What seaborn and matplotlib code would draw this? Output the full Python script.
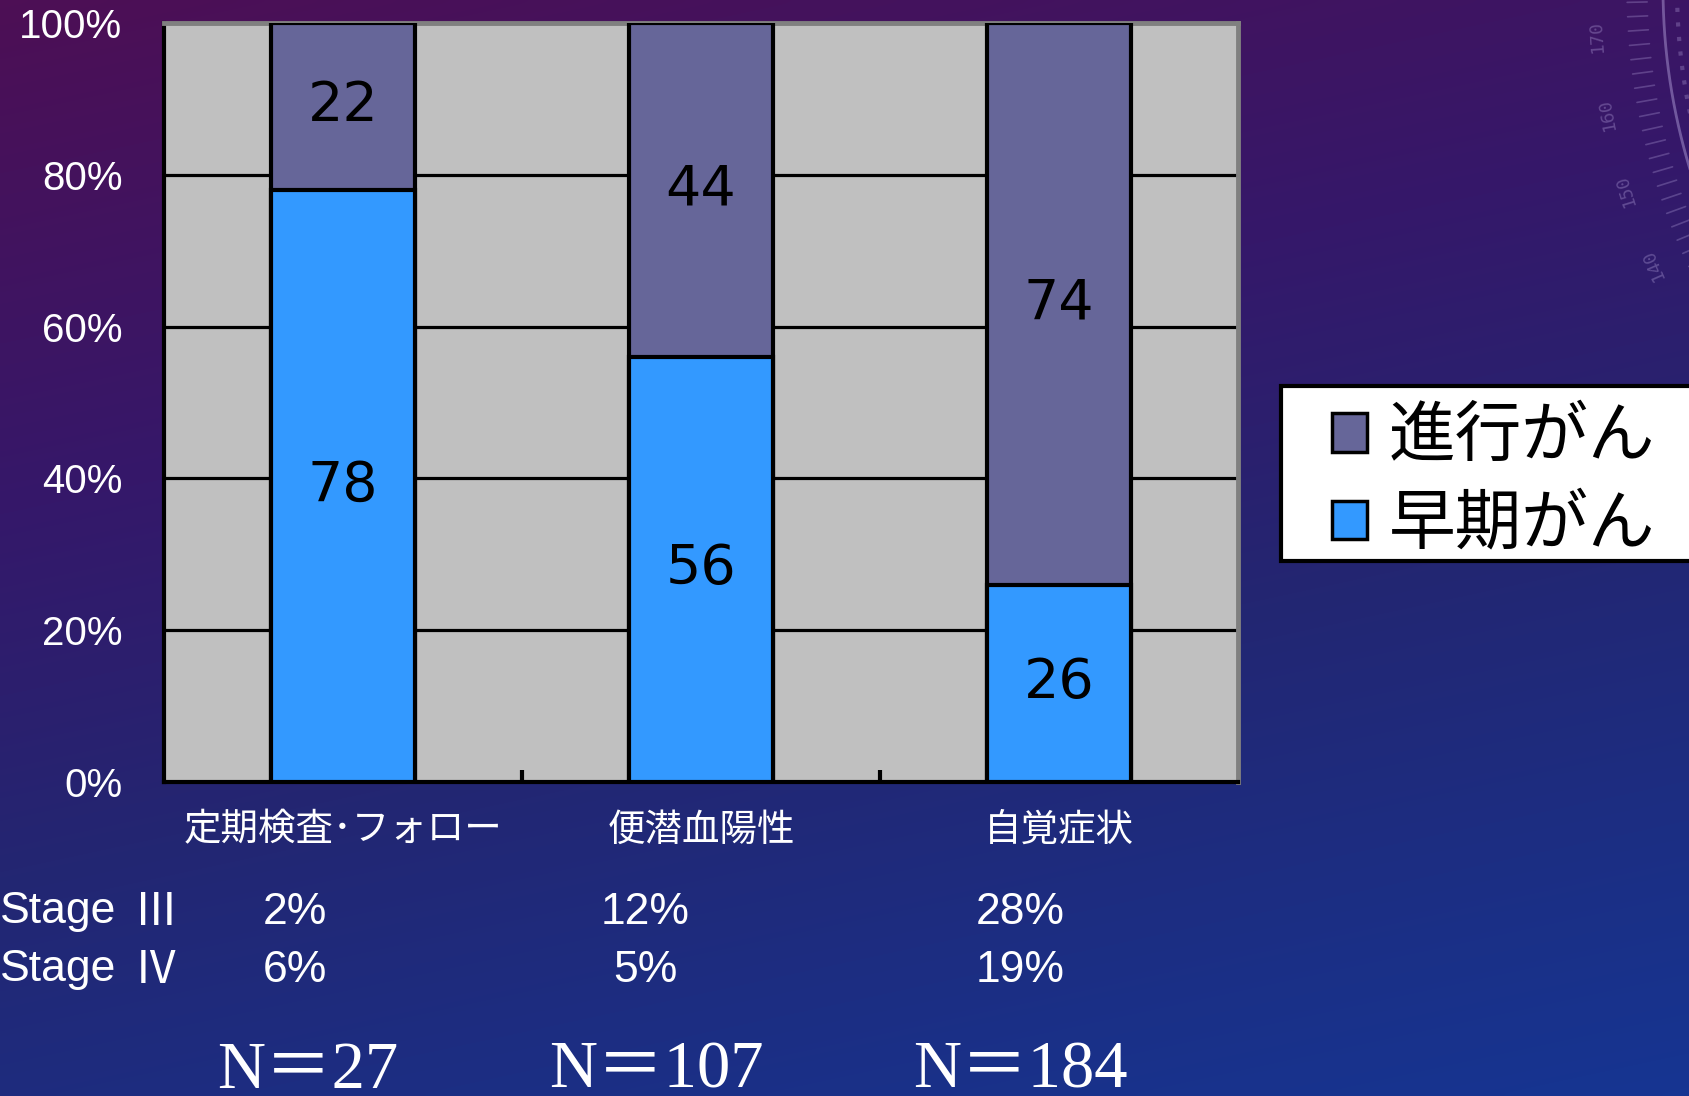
import numpy as np
import pandas as pd
import matplotlib
matplotlib.use("Agg")
import matplotlib.pyplot as plt
import seaborn as sns
from matplotlib.patches import Patch, Rectangle
from matplotlib.colors import LinearSegmentedColormap

# ---- data ----
categories = ["定期検査･フォロー", "便潜血陽性", "自覚症状"]
early = [78, 56, 26]
advanced = [22, 44, 74]
series_names = ["進行がん", "早期がん"]
stage_names = ["Ⅲ", "Ⅳ"]
stage3 = ["2%", "12%", "28%"]
stage4 = ["6%", "5%", "19%"]
n_cases = [27, 107, 184]
yticks = [0, 20, 40, 60, 80, 100]

EARLY_C = "#3399FF"
ADV_C = "#666699"
CJK = ["Liberation Sans", "Noto Sans CJK JP", "DejaVu Sans"]

sns.set_theme(style="white")
plt.rcParams["font.family"] = CJK

W, H = 1690, 1096
fig = plt.figure(figsize=(W / 100, H / 100), dpi=100)

# ---- diagonal purple-to-blue backdrop, pixel coordinates ----
bg = fig.add_axes([0, 0, 1, 1], zorder=-10)
bg_cmap = LinearSegmentedColormap.from_list(
    "slide", [(0.0, "#4D0F55"), (0.35, "#35186A"), (0.6, "#232672"), (1.0, "#163592")])
yy, xx = np.mgrid[0:1:220j, 0:1:340j]
s = np.clip(0.75 * yy + 0.25 * xx, 0, 1)
bg.imshow(s, cmap=bg_cmap, vmin=0, vmax=1, extent=(0, W, H, 0), aspect="auto",
          interpolation="bicubic")
bg.set_xlim(0, W)
bg.set_ylim(H, 0)
bg.axis("off")

# faint protractor ornament, upper right
cx, cy, R = 2286, -12, 623
deco = "#B9A8E0"
t = np.radians(np.linspace(148, 190, 200))
bg.plot(cx + R * np.cos(t), cy + R * np.sin(t), color=deco, lw=2, alpha=0.45)
t2 = np.radians(np.linspace(165, 190, 80))
bg.plot(cx + (R - 14) * np.cos(t2), cy + (R - 14) * np.sin(t2), color=deco, lw=3,
        alpha=0.3, ls=(0, (1, 2.5)))
for a in np.arange(150, 188, 1.25):
    r = np.radians(a)
    bg.plot([cx + (R + 16) * np.cos(r), cx + (R + 36) * np.cos(r)],
            [cy + (R + 16) * np.sin(r), cy + (R + 36) * np.sin(r)],
            color=deco, lw=1.2, alpha=0.3)
for lab, a in zip(["170", "160", "150", "140"], [176, 169.5, 163, 156.5]):
    r = np.radians(a)
    bg.text(cx + (R + 68) * np.cos(r), cy + (R + 68) * np.sin(r), lab, color=deco,
            alpha=0.35, fontsize=13, family="DejaVu Sans Mono", rotation=270 - a,
            ha="center", va="center", rotation_mode="anchor")

# ---- stacked bar chart ----
ax = fig.add_axes([164 / W, 1 - 782 / H, (1238 - 164) / W, (782 - 23) / H])
df = pd.DataFrame({
    "category": categories,
    "early": early,
    "total": [e + a for e, a in zip(early, advanced)],
})
sns.barplot(data=df, x="category", y="total", color=ADV_C, saturation=1, width=0.4,
            edgecolor="black", linewidth=3, ax=ax, zorder=3)
sns.barplot(data=df, x="category", y="early", color=EARLY_C, saturation=1, width=0.4,
            edgecolor="black", linewidth=3, ax=ax, zorder=4)

for i, (e, a) in enumerate(zip(early, advanced)):
    ax.text(i, e / 2, str(e), ha="center", va="center", fontsize=40,
            family="DejaVu Sans", color="black", zorder=6)
    ax.text(i, e + a / 2, str(a), ha="center", va="center", fontsize=40,
            family="DejaVu Sans", color="black", zorder=6)

ax.set_facecolor("#C0C0C0")
ax.set_xlim(-0.5, len(categories) - 0.5)
ax.set_ylim(0, 100)
ax.set_axisbelow(True)
ax.yaxis.grid(True, color="black", lw=2.3)
ax.xaxis.grid(False)
for side in ("left", "bottom"):
    ax.spines[side].set_color("black")
    ax.spines[side].set_linewidth(3)
for side in ("top", "right"):
    ax.spines[side].set_color("#808080")
    ax.spines[side].set_linewidth(3.5)

ax.set_yticks(yticks)
ax.set_yticklabels([f"{v}%" for v in yticks])
ax.tick_params(axis="y", length=0, pad=30, labelsize=29, labelcolor="white")
ax.set_xticks(range(len(categories)))
ax.set_xticklabels(categories)
ax.tick_params(axis="x", which="major", length=0, pad=22, labelsize=27, labelcolor="white")
ax.set_xticks([0.5, 1.5], minor=True)
ax.tick_params(axis="x", which="minor", bottom=True, direction="in", length=9,
               width=3, color="black")
ax.set_xlabel("")
ax.set_ylabel("")

# ---- legend: white panel running off the right edge ----
bg.add_patch(Rectangle((1281, 386), 440, 175, facecolor="white", edgecolor="black",
                       lw=3, zorder=5))
handles = [
    Patch(facecolor=ADV_C, edgecolor="black", lw=2.5, label=series_names[0]),
    Patch(facecolor=EARLY_C, edgecolor="black", lw=2.5, label=series_names[1]),
]
fig.legend(handles=handles, loc="center left", bbox_to_anchor=(1332 / W, 1 - 483 / H),
           frameon=False, prop={"family": CJK, "size": 48}, labelcolor="black",
           handlelength=0.52, handleheight=0.52, handletextpad=0.33, borderpad=0,
           labelspacing=0.38, borderaxespad=0)

# ---- stage rows and case counts ----
row_y = [912, 970]
for y, name in zip(row_y, stage_names):
    bg.text(0, y, "Stage", color="white", fontsize=32, ha="left", va="center")
    bg.text(134, y, name, color="white", fontsize=32, ha="left", va="center",
            family=["Noto Sans CJK JP", "DejaVu Sans"])

col_x = [295, 645, 1020]
for x, s3, s4 in zip(col_x, stage3, stage4):
    bg.text(x, row_y[0], s3, color="white", fontsize=32, ha="center", va="center")
    bg.text(x, row_y[1], s4, color="white", fontsize=32, ha="center", va="center")

n_x = [308, 656, 1020]
for x, n in zip(n_x, n_cases):
    bg.text(x, 1088, f"N＝{n}", color="white", fontsize=48, ha="center", va="baseline",
            family=["Liberation Serif", "Noto Sans CJK JP"])

fig.savefig("out.png", dpi=100)
